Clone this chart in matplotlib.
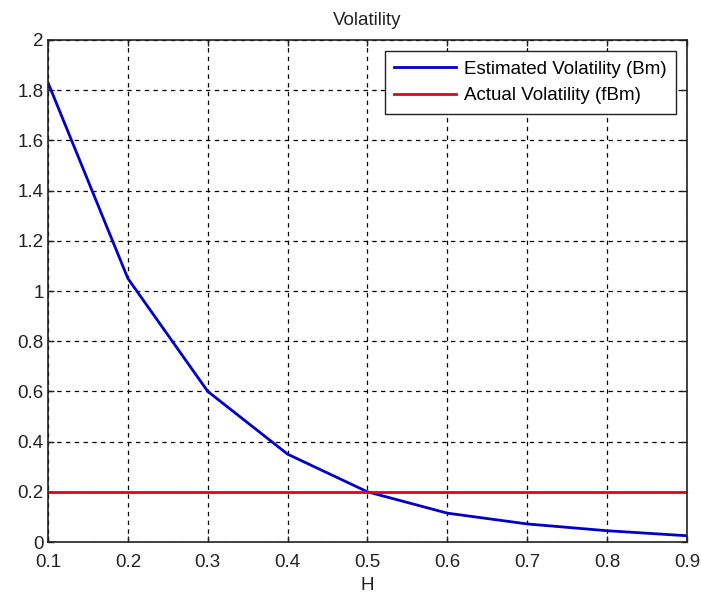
import numpy as np
import matplotlib
matplotlib.use('Agg')
import matplotlib.pyplot as plt

plt.rcParams['font.family'] = ['Liberation Sans', 'DejaVu Sans']

# Hurst exponent values and estimated volatility
H = [0.1, 0.2, 0.3, 0.4, 0.5, 0.6, 0.7, 0.8, 0.9]
est_vol = [1.83, 1.05, 0.60, 0.35, 0.20, 0.115, 0.072, 0.045, 0.025]
actual_vol = 0.2

x_ticks = [0.1, 0.2, 0.3, 0.4, 0.5, 0.6, 0.7, 0.8, 0.9]
y_ticks = [0, 0.2, 0.4, 0.6, 0.8, 1, 1.2, 1.4, 1.6, 1.8, 2]

fs = 13.5

fig = plt.figure(figsize=(7.01, 5.94), dpi=100)
ax = fig.add_axes([0.0685, 0.0875, 0.9115, 0.8452])

ax.plot(H, est_vol, color='#0000c8', lw=2.0, label='Estimated Volatility (Bm)')
ax.plot([H[0], H[-1]], [actual_vol, actual_vol], color='#e8001c', lw=2.0,
        label='Actual Volatility (fBm)')

ax.set_xlim(0.1, 0.9)
ax.set_ylim(0, 2)
ax.set_xticks(x_ticks)
ax.set_xticklabels(['%g' % v for v in x_ticks])
ax.set_yticks(y_ticks)
ax.set_yticklabels(['%g' % v for v in y_ticks])
ax.tick_params(direction='in', length=4, width=1, labelsize=fs, colors='#222222',
               top=True, right=True)
ax.tick_params(axis='x', pad=8.5)
ax.tick_params(axis='y', pad=3)
ax.grid(True, color='black', linestyle=(0, (3.5, 3.5)), linewidth=0.9)
for sp in ax.spines.values():
    sp.set_color('#222222')
    sp.set_linewidth(1.2)

ax.set_title('Volatility', fontsize=fs, color='#222222', pad=11)
ax.set_xlabel('H', fontsize=fs, color='#222222', labelpad=4.5)

leg = ax.legend(loc='upper right', fontsize=fs, handlelength=3.3, borderpad=0.5,
                labelspacing=0.5, handletextpad=0.4, fancybox=False, framealpha=1,
                borderaxespad=0.6)
leg.get_frame().set_edgecolor('#222222')
leg.get_frame().set_linewidth(1.0)

fig.savefig('out.png', dpi=100)
